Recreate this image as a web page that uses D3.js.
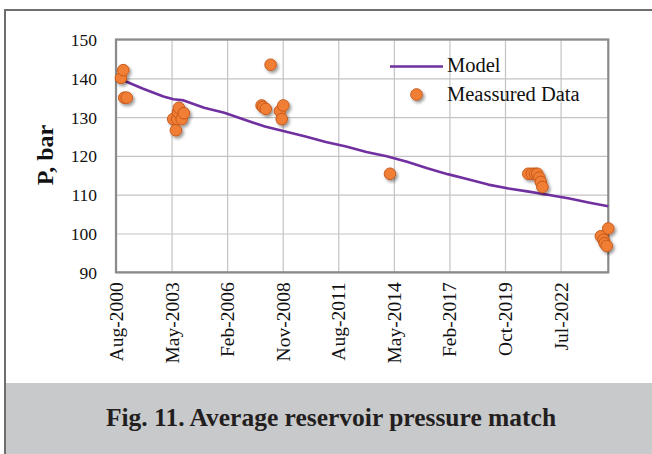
<!DOCTYPE html>
<html>
<head>
<meta charset="utf-8">
<script src="https://cdn.jsdelivr.net/npm/d3@7"></script>
<style>
  html, body { margin: 0; padding: 0; background: #fff; }
  svg { display: block; }
</style>
</head>
<body>
<script>
// Simulated average reservoir pressure (model)
const modelDates = ["2000-08-30","2001-01-01","2002-01-01","2003-01-01","2003-07-01","2004-01-01",
  "2005-01-01","2006-01-01","2007-01-01","2008-01-01","2009-01-01","2010-01-01","2011-01-01",
  "2012-01-01","2013-01-01","2014-01-01","2015-01-01","2016-01-01","2017-01-01","2018-01-01",
  "2019-01-01","2020-01-01","2021-01-01","2022-01-01","2023-01-01","2024-01-01","2024-12-01"];
const modelPressure = [140.2,139.5,137.3,135.3,134.6,134.3,
  132.4,131.1,129.3,127.6,126.3,125.0,123.6,
  122.4,121.0,119.9,118.5,116.8,115.3,114.0,
  112.6,111.6,110.8,109.9,109.0,107.9,107.0];

// Measured pressure points
const measuredDates = ["2000-11-28","2001-01-08","2001-01-26","2001-03-11",
  "2003-06-26","2003-08-13","2003-09-05","2003-09-20","2003-10-06","2003-11-24","2004-01-04",
  "2007-11-02","2007-12-01","2008-01-15","2008-04-12","2008-09-27","2008-10-29","2008-11-26",
  "2014-02-28",
  "2020-12-23","2021-02-24","2021-04-23","2021-06-03","2021-07-09","2021-08-04","2021-09-02",
  "2024-07-20","2024-09-05","2024-09-27","2024-11-02","2024-11-30"];
const measuredPressure = [140.1,142.1,135.0,135.0,
  129.5,126.6,129.5,131.3,132.4,129.5,131.0,
  133.0,132.6,132.1,143.5,131.6,129.5,133.0,
  115.4,
  115.4,115.4,115.4,115.4,114.4,113.3,112.0,
  99.3,98.4,97.5,96.8,101.3];

// Axes
const xDomain = ["2000-08-30","2024-12-01"];
const xTickDates = ["2000-08-30","2003-05-27","2006-02-20","2008-11-16","2011-08-13",
  "2014-05-09","2017-02-02","2019-10-30","2022-07-26"];
const xTickLabels = ["Aug-2000","May-2003","Feb-2006","Nov-2008","Aug-2011",
  "May-2014","Feb-2017","Oct-2019","Jul-2022"];
const yTicks = [90,100,110,120,130,140,150];
const seriesNames = ["Model","Meassured Data"];

const W = 652, H = 454;
const plot = { left: 116, right: 608.3, top: 39.5, bottom: 272.3 };
const serif = "'Liberation Serif','Times New Roman',serif";
const parse = d3.utcParse("%Y-%m-%d");

const svg = d3.select("body").append("svg")
  .attr("width", W).attr("height", H)
  .attr("viewBox", `0 0 ${W} ${H}`);

const defs = svg.append("defs");
const shadow = defs.append("filter").attr("id", "markerShadow")
  .attr("x", "-50%").attr("y", "-50%").attr("width", "200%").attr("height", "200%");
shadow.append("feDropShadow").attr("dx", 1.8).attr("dy", 2.2)
  .attr("stdDeviation", 1.4).attr("flood-color", "#000").attr("flood-opacity", 0.4);

// Figure frame and caption band
svg.append("rect").attr("x", 5).attr("y", 383).attr("width", W - 5).attr("height", H - 383)
  .attr("fill", "#c8c9cb");
svg.append("path").attr("d", `M5,${H} V10 H${W}`)
  .attr("fill", "none").attr("stroke", "#6e6e6e").attr("stroke-width", 2);
svg.append("text").attr("x", 331).attr("y", 426)
  .attr("text-anchor", "middle")
  .attr("font-family", serif).attr("font-weight", "bold").attr("font-size", 25.5)
  .attr("fill", "#231f20")
  .text("Fig. 11. Average reservoir pressure match");

const x = d3.scaleUtc().domain(xDomain.map(parse)).range([plot.left, plot.right]);
const y = d3.scaleLinear().domain([90, 150]).range([plot.bottom, plot.top]);

// Gridlines
svg.append("g").attr("transform", `translate(0,${plot.bottom})`)
  .call(d3.axisBottom(x).tickValues(xTickDates.map(parse))
    .tickSize(-(plot.bottom - plot.top)).tickFormat(""))
  .call(g => g.select(".domain").remove())
  .call(g => g.selectAll("line").attr("stroke", "#c3c3c3").attr("stroke-width", 1.2));
svg.append("g").attr("transform", `translate(${plot.left},0)`)
  .call(d3.axisLeft(y).tickValues(yTicks)
    .tickSize(-(plot.right - plot.left)).tickFormat(""))
  .call(g => g.select(".domain").remove())
  .call(g => g.selectAll("line").attr("stroke", "#c3c3c3").attr("stroke-width", 1.2));

// Plot area border
svg.append("rect")
  .attr("x", plot.left).attr("y", plot.top)
  .attr("width", plot.right - plot.left).attr("height", plot.bottom - plot.top)
  .attr("fill", "none").attr("stroke", "#8a8a8a").attr("stroke-width", 2.2);

// Y axis labels
svg.append("g").attr("transform", `translate(${plot.left},0)`)
  .call(d3.axisLeft(y).tickValues(yTicks).tickSize(0).tickPadding(19))
  .call(g => g.select(".domain").remove())
  .call(g => g.selectAll("text")
    .attr("font-family", serif).attr("font-size", 17.5).attr("fill", "#111")
    .attr("dy", "0.34em"));

// X axis labels, rotated
svg.append("g").attr("transform", `translate(0,${plot.bottom})`)
  .call(d3.axisBottom(x).tickValues(xTickDates.map(parse))
    .tickSize(0).tickFormat((d, i) => xTickLabels[i]))
  .call(g => g.select(".domain").remove())
  .call(g => g.selectAll("text")
    .attr("font-family", serif).attr("font-size", 19.5).attr("fill", "#111")
    .attr("text-anchor", "end")
    .attr("y", 0).attr("dy", 0)
    .attr("transform", "translate(6.5,10) rotate(-90)"));

// Y axis title
svg.append("text")
  .attr("transform", "translate(53,155) rotate(-90)")
  .attr("text-anchor", "middle")
  .attr("font-family", serif).attr("font-weight", "bold").attr("font-size", 24)
  .attr("fill", "#111")
  .text("P, bar");

// Model line
const modelData = modelDates.map((d, i) => ({ date: parse(d), p: modelPressure[i] }));
const line = d3.line().x(d => x(d.date)).y(d => y(d.p));
svg.append("path").datum(modelData)
  .attr("d", line)
  .attr("fill", "none").attr("stroke", "#7030a0").attr("stroke-width", 2.6)
  .attr("stroke-linejoin", "round");

// Measured points
const measured = measuredDates.map((d, i) => ({ date: parse(d), p: measuredPressure[i] }));
svg.append("g").attr("filter", "url(#markerShadow)")
  .selectAll("circle").data(measured).join("circle")
  .attr("cx", d => x(d.date)).attr("cy", d => y(d.p))
  .attr("r", 5.8)
  .attr("fill", "#f07e35").attr("stroke", "#c8591a").attr("stroke-width", 1);

// Legend
const legend = svg.append("g")
  .attr("font-family", serif).attr("font-size", 20.5).attr("fill", "#111");
legend.append("line").attr("x1", 390).attr("x2", 443).attr("y1", 66.5).attr("y2", 66.5)
  .attr("stroke", "#7030a0").attr("stroke-width", 2.6);
legend.append("text").attr("x", 447).attr("y", 72).text(seriesNames[0]);
legend.append("circle").attr("cx", 416.5).attr("cy", 94.5).attr("r", 5.8)
  .attr("fill", "#f07e35").attr("stroke", "#c8591a").attr("stroke-width", 1)
  .attr("filter", "url(#markerShadow)");
legend.append("text").attr("x", 447).attr("y", 101).text(seriesNames[1]);
</script>
</body>
</html>
